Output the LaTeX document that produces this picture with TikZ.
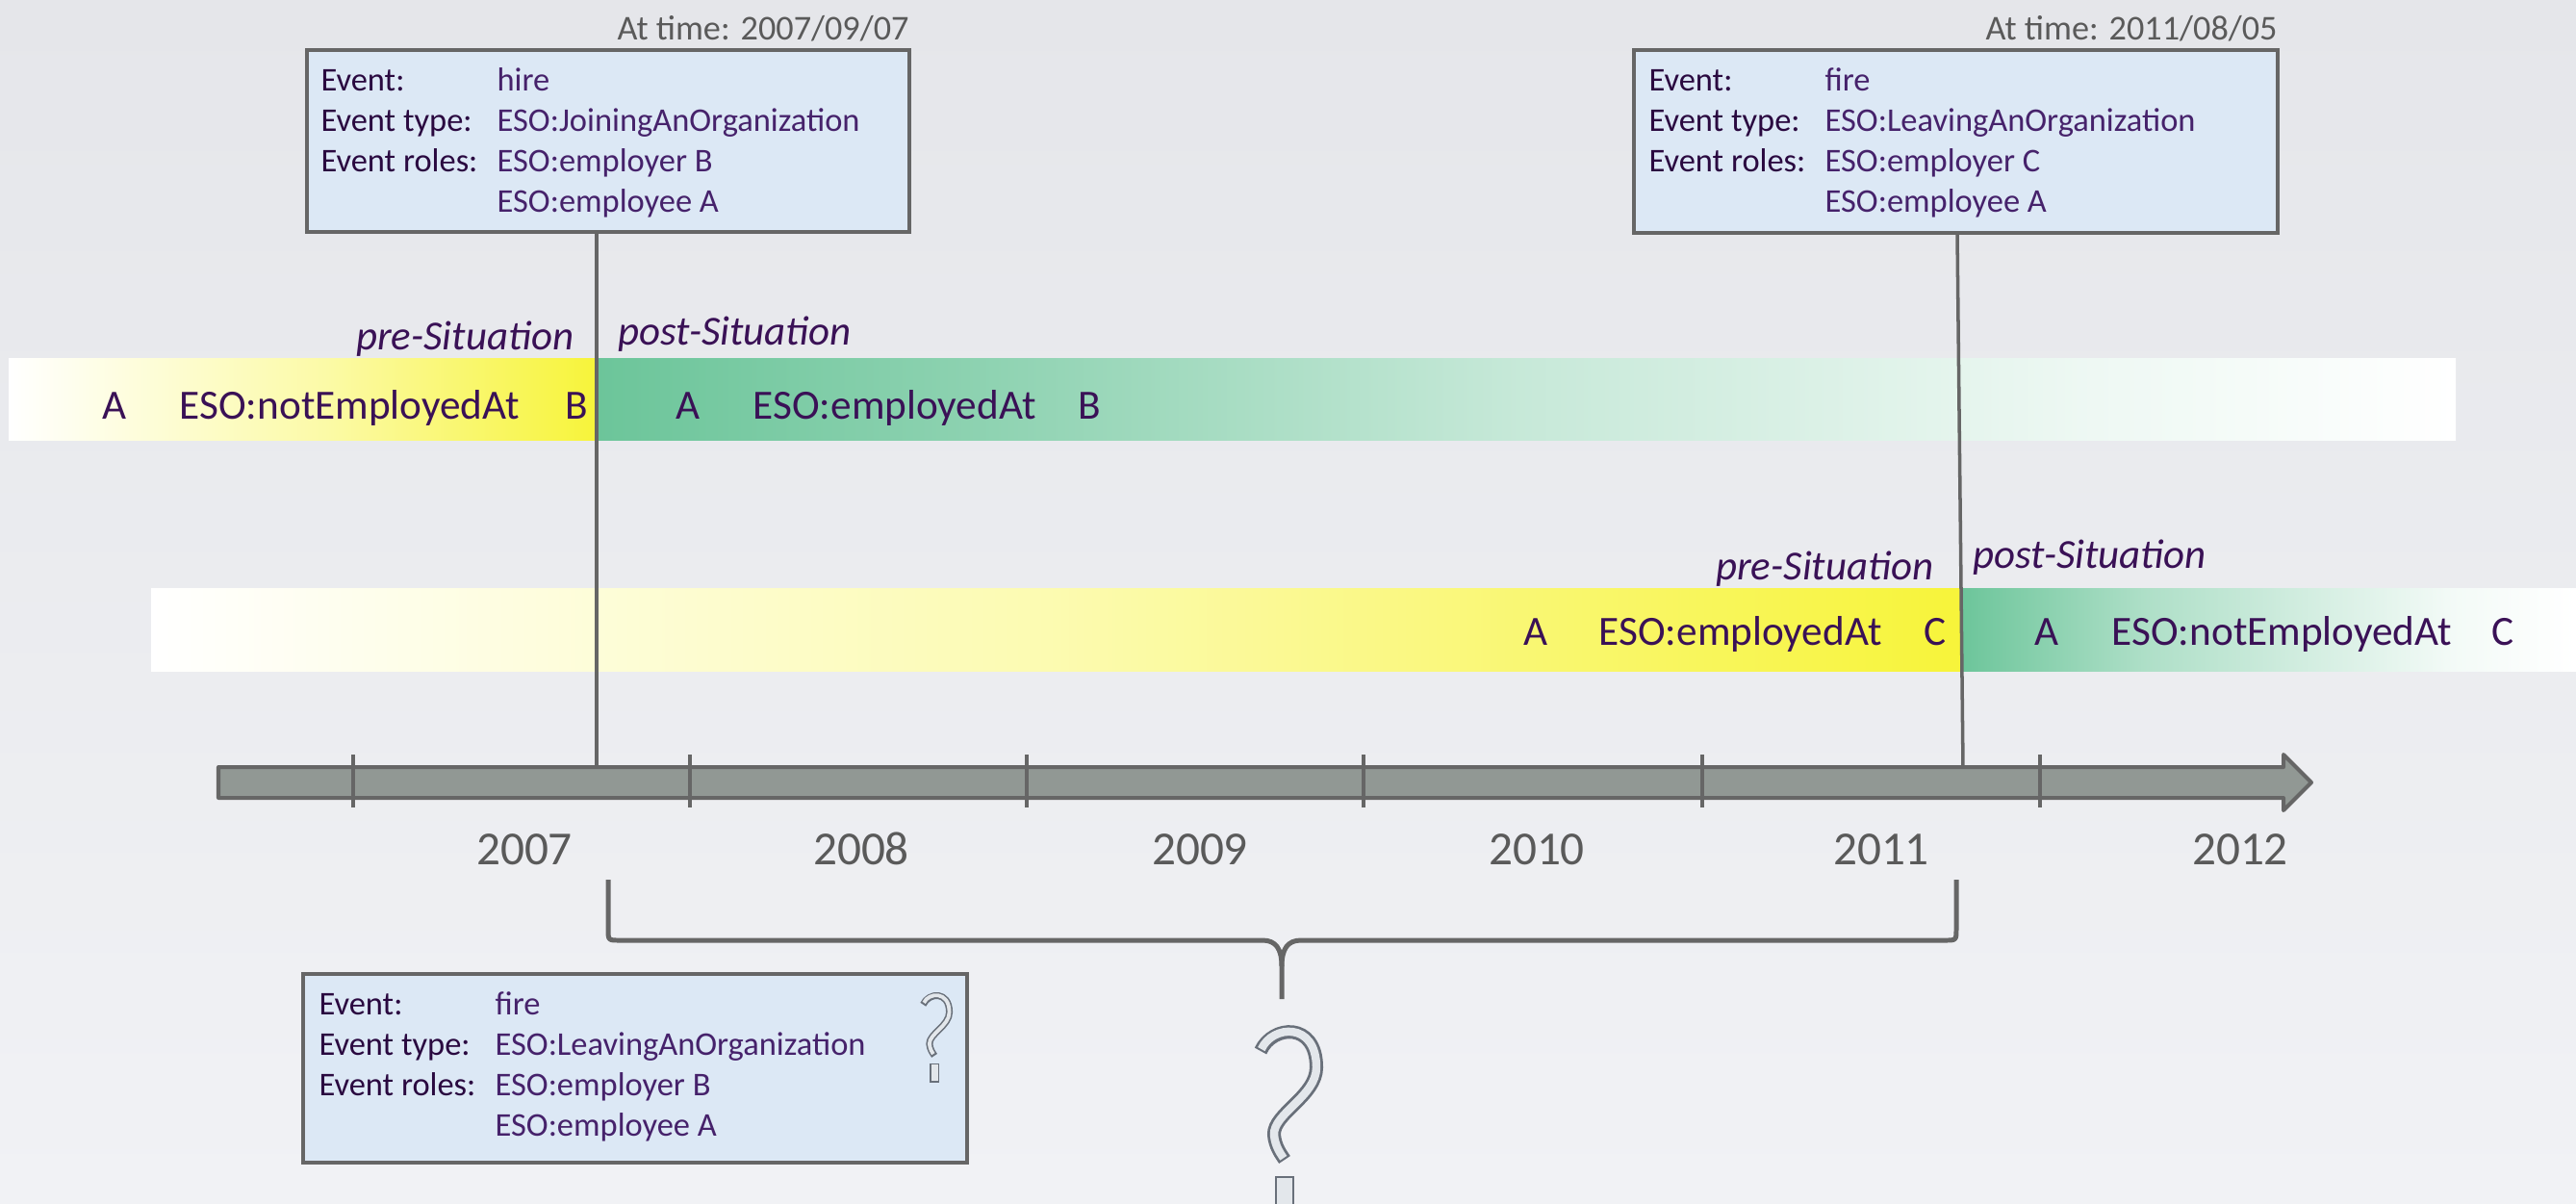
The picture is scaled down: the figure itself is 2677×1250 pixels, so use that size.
\documentclass[tikz,border=0pt]{standalone}
\usepackage{fontspec}
\setmainfont{Carlito}
\usepackage{array}
\usetikzlibrary{calc}

\definecolor{bgtop}{HTML}{E5E6EA}
\definecolor{bgbot}{HTML}{F1F2F5}
\definecolor{boxfill}{HTML}{DCE8F5}
\definecolor{edgegray}{HTML}{666666}
\definecolor{evlabel}{HTML}{2A0940}
\definecolor{evvalue}{HTML}{46226B}
\definecolor{reltext}{HTML}{3A1156}
\definecolor{sityellow}{HTML}{F7F43A}
\definecolor{sitgreen}{HTML}{6CC59A}
\definecolor{axisfill}{HTML}{919894}
\definecolor{yeartext}{HTML}{5A5A5A}
\definecolor{qedge}{HTML}{69707A}
\definecolor{qlight}{HTML}{E3E7EB}

% colour ramps of the situation bars (the path spans 25bp..75bp of a shading)
\pgfdeclarehorizontalshading{preone}{100bp}{color(0bp)=(white); color(25bp)=(white); color(52bp)=(sityellow!45!white); color(75bp)=(sityellow); color(100bp)=(sityellow)}
\pgfdeclarehorizontalshading{postone}{100bp}{color(0bp)=(sitgreen); color(25bp)=(sitgreen); color(35bp)=(sitgreen!78!white); color(50bp)=(sitgreen!38!white); color(65bp)=(sitgreen!12!white); color(75bp)=(white); color(100bp)=(white)}
\pgfdeclarehorizontalshading{pretwo}{100bp}{color(0bp)=(white); color(25bp)=(white); color(50bp)=(sityellow!40!white); color(75bp)=(sityellow); color(100bp)=(sityellow)}
\pgfdeclarehorizontalshading{posttwo}{100bp}{color(0bp)=(sitgreen); color(25bp)=(sitgreen); color(40bp)=(sitgreen!55!white); color(65bp)=(sitgreen!8!white); color(75bp)=(white); color(100bp)=(white)}

\tikzset{
  evbox/.style={draw=edgegray, fill=boxfill, line width=1.14pt, rectangle, outer sep=0pt, inner sep=0pt},
  evtext/.style={anchor=base west, inner sep=0pt, font=\fontsize{9.8}{11.86}\selectfont},
  timelbl/.style={anchor=base east, inner sep=0pt, text=yeartext, font=\fontsize{10.3}{12}\selectfont},
  reltxt/.style={anchor=base west, inner sep=0pt, text=reltext, font=\fontsize{12.3}{14}\selectfont},
  sitlbl/.style={inner sep=0pt, text=reltext, font=\itshape\fontsize{12.2}{14}\selectfont},
  yearlbl/.style={anchor=base, inner sep=0pt, text=yeartext, font=\fontsize{14}{16}\selectfont},
  vline/.style={draw=edgegray, line width=1pt},
  axisbar/.style={draw=edgegray, fill=axisfill, line width=1.14pt, line join=round},
  tickmark/.style={draw=edgegray, line width=1.1pt},
  bracepath/.style={draw=edgegray, line width=1.42pt, line join=round},
  pics/qmark/.style 2 args={code={
    \draw[qedge, line width=#1, line cap=butt, line join=round]
      (-27,25) .. controls (-15,-2) and (31,-6) .. (31,42)
      .. controls (31,72) and (-14,90) .. (-13,112)
      .. controls (-12,124) and (-6,132) .. (-2,138);
    \draw[qlight, line width=#2, line cap=butt, line join=round, shorten <=0.6pt, shorten >=0.6pt]
      (-27,25) .. controls (-15,-2) and (31,-6) .. (31,42)
      .. controls (31,72) and (-14,90) .. (-13,112)
      .. controls (-12,124) and (-6,132) .. (-2,138);
    \draw[qedge, fill=qlight, line width={(#1-#2)/2}] (-11,156) rectangle (7,196);
  }}
}
% two-column layout of an event description
\newcolumntype{L}{>{\leavevmode\color{evlabel}}p{1.83cm}}
\newcolumntype{V}{>{\color{evvalue}}l}

\begin{document}
\begin{tikzpicture}[x=0.01cm, y=-0.01cm]
\useasboundingbox (0,0) rectangle (2677,1250);
\shade[top color=bgtop, bottom color=bgbot] (0,0) rectangle (2677,1250);

% situation bars
\shade[shading=preone]  (9,372)    rectangle (620,457);
\shade[shading=postone] (620,372)  rectangle (2552,457);
\shade[shading=pretwo]  (157,611)  rectangle (2037,697);
\shade[shading=posttwo] (2037,611) rectangle (2677,697);

% event boxes
\node[evbox, minimum width=6.26cm, minimum height=1.89cm] (hire)  at (632,146.5) {};
\node[evbox, minimum width=6.69cm, minimum height=1.90cm] (fire)  at (2032.5,147) {};

% time axis
\draw[axisbar] (227,797) -- (2373,797) -- (2373,784) -- (2402,813) -- (2373,842)
  -- (2373,829) -- (227,829) -- cycle;
\foreach \tx in {367,717,1067,1417,1769,2120}
  \draw[tickmark] (\tx,784) -- (\tx,839);
\coordinate (t1) at (620,797);
\coordinate (t2) at (2040,797);

% event lines down to the axis
\draw[vline] (t1 |- hire.south) -- (t1);
\draw[vline] ($(fire.south)+(1.5,0)$) -- (t2);

% event descriptions
\node[timelbl] (hiretime) at ($(hire.north east)+(0,-10)$) {At time: 2007/09/07};
\node[timelbl] (firetime) at ($(fire.north east)+(0,-10)$) {At time: 2011/08/05};
\node[evtext] (hireinfo) at ($(hire.north west)+(14,43)$) {%
  \begin{tabular}[t]{@{}L@{}V@{}}
  Event: & hire\\
  Event type: & ESO:JoiningAnOrganization\\
  Event roles: & ESO:employer B\\
  & ESO:employee A
  \end{tabular}};
\node[evtext] (fireinfo) at ($(fire.north west)+(15,43)$) {%
  \begin{tabular}[t]{@{}L@{}V@{}}
  Event: & fire\\
  Event type: & ESO:LeavingAnOrganization\\
  Event roles: & ESO:employer C\\
  & ESO:employee A
  \end{tabular}};

% situation texts
\node[sitlbl, anchor=base east] (pre1)  at (597,363)  {pre-Situation};
\node[sitlbl, anchor=base west] (post1) at (642,358)  {post-Situation};
\node[sitlbl, anchor=base east] (pre2)  at (2010,602) {pre-Situation};
\node[sitlbl, anchor=base west] (post2) at (2050,590) {post-Situation};

\node[reltxt] (s1a) at (106,435)  {A};
\node[reltxt] (s1r) at (186,435)  {ESO:notEmployedAt};
\node[reltxt] (s1b) at (587,435)  {B};
\node[reltxt] (s2a) at (702,435)  {A};
\node[reltxt] (s2r) at (782,435)  {ESO:employedAt};
\node[reltxt] (s2b) at (1120,435) {B};
\node[reltxt] (s3a) at (1583,670) {A};
\node[reltxt] (s3r) at (1661,670) {ESO:employedAt};
\node[reltxt] (s3c) at (1999,670) {C};
\node[reltxt] (s4a) at (2114,670) {A};
\node[reltxt] (s4r) at (2194,670) {ESO:notEmployedAt};
\node[reltxt] (s4c) at (2589,670) {C};

% years
\node[yearlbl] (y2007) at (545,898)  {2007};
\node[yearlbl] (y2008) at (895,898)  {2008};
\node[yearlbl] (y2009) at (1247,898) {2009};
\node[yearlbl] (y2010) at (1597,898) {2010};
\node[yearlbl] (y2011) at (1955,898) {2011};
\node[yearlbl] (y2012) at (2328,898) {2012};

% brace over the interval between the two events
\coordinate (bl) at (632,914);
\coordinate (br) at (2033,914);
\coordinate (btip) at (1332,1038);
\draw[bracepath] (bl) -- (632,965) .. controls (632,977) .. (644,977) -- (1312,977)
  .. controls (1326,977) and (1332,986) .. (1332,1004) -- (btip);
\draw[bracepath] (br) -- (2033,965) .. controls (2033,977) .. (2021,977) -- (1352,977)
  .. controls (1338,977) and (1332,986) .. (1332,1004);

% hypothetical event
\node[evbox, minimum width=6.90cm, minimum height=1.96cm] (guess) at (660,1110) {};
\node[evtext] (guessinfo) at ($(guess.north west)+(16,43)$) {%
  \begin{tabular}[t]{@{}L@{}V@{}}
  Event: & fire\\
  Event type: & ESO:LeavingAnOrganization\\
  Event roles: & ESO:employer B\\
  & ESO:employee A
  \end{tabular}};

% question marks
\pic (qbig) at (1337,1067) {qmark={4pt}{2.4pt}};
\pic[scale=0.47] (qsmall) at (972,1032) {qmark={2pt}{1.1pt}};
\end{tikzpicture}
\end{document}
